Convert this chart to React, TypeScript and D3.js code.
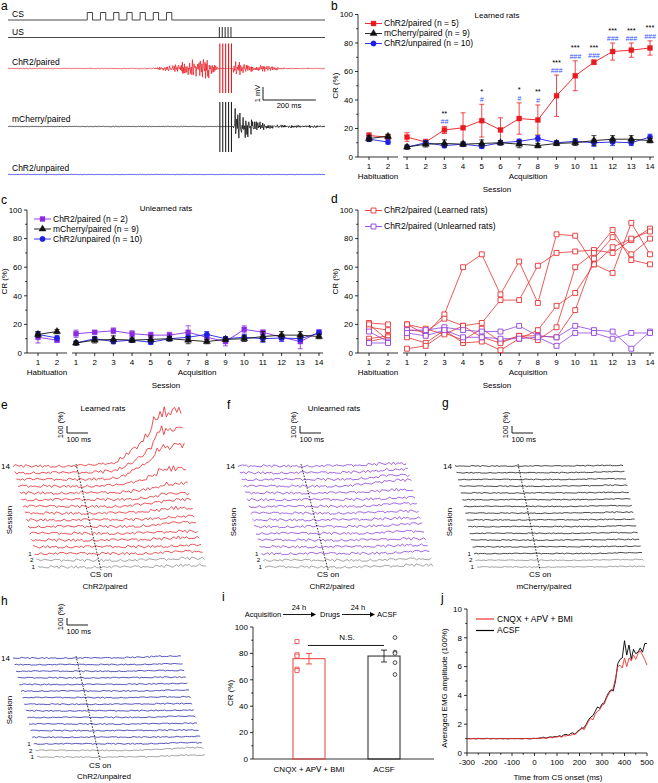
import React from "react";
import * as d3 from "d3";

const FONT = "'Liberation Sans', Arial, Helvetica, sans-serif";

// ---------------- Panel a (raw traces) ----------------
const CS_PULSE_STARTS_MS = [300, 350, 400, 450, 500, 550, 600];
const CS_PULSE_WIDTH_MS = 20;
const US_PULSES_MS = [800, 811, 822, 833, 844];
const RED_ENV_T = [0, 540, 580, 620, 660, 700, 730, 760, 790, 798, 852, 858, 875, 900, 940, 980, 1020, 1060, 1200];
const RED_ENV_MV = [0.03, 0.04, 0.15, 0.3, 0.55, 0.8, 1.0, 0.85, 0.6, 0, 0, 1.1, 0.55, 0.4, 0.3, 0.25, 0.15, 0.05, 0.03];
const BLACK_ENV_T = [0, 798, 852, 860, 880, 900, 920, 950, 1000, 1050, 1100, 1200];
const BLACK_ENV_MV = [0.03, 0.03, 0, 1.5, 1.4, 1.15, 0.8, 0.4, 0.2, 0.15, 0.12, 0.1];
const BLUE_ENV_T = [0, 1200];
const BLUE_ENV_MV = [0.02, 0.02];
const NOISE = [0.3, -0.8, 0.5, -0.2, 0.9, -0.6, 0.1, -0.9, 0.7, -0.4, 0.2, 0.8, -0.5, -0.1, 0.6, -0.7, 0.4, -0.3, 1.0, -0.9,
  0.2, 0.5, -0.6, 0.8, -0.2, -0.8, 0.3, 0.7, -0.4, 0.1, -1.0, 0.6, -0.3, 0.9, -0.5, 0.2, 0.4, -0.7, 0.8, -0.1,
  -0.6, 0.5, -0.9, 0.3, 0.7, -0.2, 0.1, -0.8, 0.6, -0.4];

// ---------------- Panels b, c (means) ----------------
const SESSIONS_HAB = [1, 2];
const SESSIONS_ACQ = [1, 2, 3, 4, 5, 6, 7, 8, 9, 10, 11, 12, 13, 14];

const B_RED_HAB = [15, 14];
const B_RED_HAB_ERR = [2, 1.5];
const B_RED_ACQ = [14, 10.5, 19, 20.5, 25.5, 19, 27, 26, 43, 57, 66.5, 74, 75, 76.5];
const B_RED_ACQ_ERR = [3, 2, 2.5, 10.5, 11.5, 8.5, 11, 10.5, 14.5, 10.5, 1.5, 6, 5, 5];
const B_BLACK_HAB = [13, 14.5];
const B_BLACK_HAB_ERR = [2, 1.5];
const B_BLACK_ACQ = [7, 9, 9.5, 9, 9.5, 10, 9, 8, 9.5, 10, 11.5, 12.5, 12.5, 11.5];
const B_BLACK_ACQ_ERR = [1.5, 2, 2.5, 1.5, 2.5, 1.5, 2.5, 1.5, 1.5, 2, 3.5, 2.5, 2.5, 1.5];
const B_BLUE_HAB = [12.5, 10.5];
const B_BLUE_HAB_ERR = [1.5, 1.5];
const B_BLUE_ACQ = [7, 10, 8, 9, 7.5, 10, 11, 13, 10, 11, 10, 10.5, 10, 14];
const B_BLUE_ACQ_ERR = [1, 1.5, 1.5, 1.5, 1.5, 1.5, 1.5, 2, 1.5, 2, 2.5, 2.5, 2, 2];
const B_STARS = ["", "", "**", "", "*", "", "*", "**", "***", "***", "***", "***", "***", "***"];
const B_HASHES = ["", "", "##", "", "#", "", "#", "#", "###", "###", "###", "###", "###", "###"];

const C_PURPLE_HAB = [11, 9];
const C_PURPLE_HAB_ERR = [4, 1.5];
const C_PURPLE_ACQ = [13.5, 14.5, 15.5, 13.5, 12.5, 12.5, 14.5, 11, 8, 16.5, 14.5, 11, 8, 14.5];
const C_PURPLE_ACQ_ERR = [2.5, 1, 2, 2, 2, 2, 4.5, 2, 3, 2.5, 1.5, 2, 5, 1.5];
const C_BLACK_HAB = [13, 15];
const C_BLACK_HAB_ERR = [2, 1.5];
const C_BLUE_HAB = [13, 10.5];
const C_BLUE_HAB_ERR = [1.5, 1.5];

// ---------------- Panel d (individual rats) ----------------
const D_LEARNED_HAB = [[21, 20], [18, 16], [10, 12], [8, 11], [20, 9]];
const D_LEARNED_ACQ = [
  [20, 13, 27, 60, 69, 41, 64, 35, 83, 82, 62, 56, 91, 69],
  [16, 15, 24, 19, 21, 37, 37, 61, 70, 71, 72, 70, 79, 87],
  [11, 7, 16, 7, 8, 2, 10, 16, 33, 42, 62, 74, 80, 85],
  [3, 5, 14, 9, 17, 8, 12, 9, 18, 60, 70, 86, 65, 62],
  [20, 17, 13, 19, 11, 7, 12, 12, 11, 30, 66, 81, 69, 80],
];
const D_UNLEARNED_HAB = [[15, 8], [7, 7]];
const D_UNLEARNED_ACQ = [
  [16, 16, 18, 16, 15, 15, 19, 12, 11, 19, 16, 15, 3, 15],
  [14, 12, 16, 11, 11, 10, 10, 11, 5, 14, 14, 10, 14, 14],
];

// ---------------- Panel j (averaged EMG) ----------------
const J_TIMES_START = -300;
const J_TIMES_STEP = 10;
const J_RED = [
  1.00, 0.98, 1.01, 0.99, 1.00, 1.02, 0.98, 1.00, 0.99, 1.01, 1.00, 0.98, 1.00, 1.01, 0.99, 1.00, 0.98, 1.01, 1.00, 0.99,
  1.00, 1.01, 0.99, 1.00, 0.98, 1.00, 1.01, 0.99, 1.00, 1.00,
  1.00, 1.02, 1.00, 1.03, 1.05, 1.02, 1.06, 1.08, 1.05, 1.10, 1.12,
  1.15, 1.10, 1.20, 1.18, 1.25, 1.22, 1.30, 1.28, 1.45, 1.55,
  1.80, 1.60, 1.90, 2.20, 2.40, 2.30, 2.70, 2.90, 3.00, 3.30,
  3.40, 3.80, 4.10, 4.30, 4.50, 5.20, 6.00, 6.10, 5.90, 6.60,
  6.00, 6.60, 6.40, 6.80, 6.50, 6.90, 7.10, 6.80, 6.50, 6.10,
];
const J_BLACK = [
  1.01, 1.00, 0.99, 1.01, 0.98, 1.00, 1.01, 0.99, 1.00, 1.02, 0.99, 1.00, 1.01, 0.98, 1.00, 1.01, 0.99, 1.00, 0.98, 1.01,
  1.00, 0.99, 1.01, 1.00, 1.00, 0.99, 1.01, 1.00, 0.98, 1.01,
  1.02, 1.00, 1.04, 1.05, 1.10, 1.04, 1.08, 1.12, 1.10, 1.15, 1.12,
  1.20, 1.15, 1.25, 1.30, 1.22, 1.35, 1.40, 1.30, 1.50, 1.60,
  1.70, 1.75, 2.00, 2.30, 2.50, 2.60, 2.90, 3.20, 3.10, 3.40,
  3.50, 3.90, 4.20, 4.40, 4.30, 5.00, 6.20, 6.50, 6.60, 7.80,
  6.80, 7.50, 6.50, 7.20, 6.90, 7.00, 7.30, 7.00, 7.60, 7.60,
];
const J_X_TICKS = [-300, -200, -100, 0, 100, 200, 300, 400, 500];
const J_Y_TICKS = [0, 2, 4, 6, 8, 10];

// ---------------- Panels e–h (waterfalls): peak amplitude per trace (hab1, hab2, acq1..14) ----------------
const E_PEAKS = [1.3, 1.3, 1.3, 1.2, 1.4, 1.3, 1.6, 1.5, 1.8, 2.0, 1.9, 2.4, 3.7, 6.1, 7.4, 9.3];
const F_PEAKS = [1.3, 1.2, 1.3, 1.3, 1.2, 1.3, 1.4, 1.3, 1.3, 1.4, 1.3, 1.5, 1.9, 1.6, 1.5, 1.4];
const G_PEAKS = [1.1, 1.1, 1.1, 1.1, 1.1, 1.1, 1.1, 1.1, 1.15, 1.1, 1.1, 1.1, 1.15, 1.1, 1.15, 1.1];
const H_PEAKS = [1.3, 1.4, 1.15, 1.1, 1.1, 1.1, 1.15, 1.1, 1.1, 1.1, 1.1, 1.15, 1.1, 1.1, 1.1, 1.3];

// ---------------- Panel i ----------------
const I_GROUPS = ["CNQX + AP\u2164 + BMI", "ACSF"];
const I_MEANS = [76, 78];
const I_ERRS = [4, 4.5];
const I_POINTS = [[89, 79, 78, 68, 67], [92, 81, 80, 73, 64]];
const I_NS = 86;
const I_FLOW = ["Acquisition", "Drugs", "ACSF"];
const I_FLOW_GAP = "24 h";

const RED = "#e8191f";
const BLUE = "#1f1fe6";
const PURPLE = "#8a2be2";
const BLACK = "#111";
const HASH_BLUE = "#3050ff";

const fs = 8;

function Symbol({ kind, x, y, color, open }: any) {
  const type = kind === "square" ? d3.symbolSquare : kind === "triangle" ? d3.symbolTriangle : d3.symbolCircle;
  const size = kind === "square" ? 24 : 22;
  const p = d3.symbol().type(type).size(size)() as string;
  return (
    <path
      d={p}
      transform={`translate(${x},${y})`}
      fill={open ? "#fff" : color}
      stroke={color}
      strokeWidth={open ? 0.9 : 0.4}
    />
  );
}

function SessionChart(props: any) {
  const { ox, y0, y100, series, title, titleY, legendY, legendDy, annot } = props;
  const y = d3.scaleLinear().domain([0, 100]).range([y0, y100]);
  const xh = d3.scaleLinear().domain([1, 2]).range([ox + 11, ox + 30]);
  const xa = d3.scaleLinear().domain([1, 14]).range([ox + 49, ox + 292]);
  const line = d3.line();
  const majors = y.ticks(5);
  const minors = y.ticks(10).filter((v) => !majors.includes(v));
  return (
    <g fontFamily={FONT} fontSize={fs}>
      {/* y axis */}
      <line x1={ox} x2={ox} y1={y(0)} y2={y(100)} stroke="#000" strokeWidth={0.8} />
      {majors.map((v) => (
        <g key={"M" + v}>
          <line x1={ox - 3} x2={ox} y1={y(v)} y2={y(v)} stroke="#000" strokeWidth={0.8} />
          <text x={ox - 5} y={y(v)} dy="0.34em" textAnchor="end">
            {v}
          </text>
        </g>
      ))}
      {minors.map((v) => (
        <line key={"m" + v} x1={ox - 1.8} x2={ox} y1={y(v)} y2={y(v)} stroke="#000" strokeWidth={0.8} />
      ))}
      <text transform={`translate(${ox - 20},${(y0 + y100) / 2}) rotate(-90)`} textAnchor="middle">
        CR (%)
      </text>
      {/* x axes */}
      <line x1={ox} x2={ox + 40} y1={y0} y2={y0} stroke="#000" strokeWidth={0.8} />
      <line x1={ox + 45} x2={ox + 296} y1={y0} y2={y0} stroke="#000" strokeWidth={0.8} />
      {SESSIONS_HAB.map((s) => (
        <g key={"h" + s}>
          <line x1={xh(s)} x2={xh(s)} y1={y0} y2={y0 + 3} stroke="#000" strokeWidth={0.8} />
          <text x={xh(s)} y={y0 + 12} textAnchor="middle">
            {s}
          </text>
        </g>
      ))}
      {SESSIONS_ACQ.map((s) => (
        <g key={"a" + s}>
          <line x1={xa(s)} x2={xa(s)} y1={y0} y2={y0 + 3} stroke="#000" strokeWidth={0.8} />
          <text x={xa(s)} y={y0 + 12} textAnchor="middle">
            {s}
          </text>
        </g>
      ))}
      <text x={ox + 20} y={y0 + 22} textAnchor="middle">
        Habituation
      </text>
      <text x={ox + 170} y={y0 + 22} textAnchor="middle">
        Acquisition
      </text>
      <text x={ox + 139} y={y0 + 35} textAnchor="middle">
        Session
      </text>
      {title && (
        <text x={ox + 139} y={titleY} textAnchor="middle">
          {title}
        </text>
      )}
      {/* series */}
      {series.map((s: any, si: number) => {
        const hp = s.hab.map((v: number, i: number) => [xh(SESSIONS_HAB[i]), y(v)] as [number, number]);
        const ap = s.acq.map((v: number, i: number) => [xa(SESSIONS_ACQ[i]), y(v)] as [number, number]);
        const bars = [
          ...(s.habErr || []).map((e: number, i: number) => ({ x: xh(SESSIONS_HAB[i]), m: s.hab[i], e })),
          ...(s.acqErr || []).map((e: number, i: number) => ({ x: xa(SESSIONS_ACQ[i]), m: s.acq[i], e })),
        ];
        return (
          <g key={si}>
            {bars.map((b: any, i: number) => (
              <g key={i} stroke={s.color} strokeWidth={0.8}>
                <line x1={b.x} x2={b.x} y1={y(b.m - b.e)} y2={y(b.m + b.e)} />
                <line x1={b.x - 2.5} x2={b.x + 2.5} y1={y(b.m - b.e)} y2={y(b.m - b.e)} />
                <line x1={b.x - 2.5} x2={b.x + 2.5} y1={y(b.m + b.e)} y2={y(b.m + b.e)} />
              </g>
            ))}
            <path d={line(hp) as string} fill="none" stroke={s.color} strokeWidth={s.lw || 0.9} />
            <path d={line(ap) as string} fill="none" stroke={s.color} strokeWidth={s.lw || 0.9} />
            {[...hp, ...ap].map((p: [number, number], i: number) => (
              <Symbol key={i} kind={s.marker} x={p[0]} y={p[1]} color={s.color} open={s.open} />
            ))}
          </g>
        );
      })}
      {annot &&
        annot.stars.map((st: string, i: number) => {
          const top = y(annot.means[i] + annot.errs[i]);
          return (
            <g key={"an" + i}>
              {st && (
                <text x={xa(SESSIONS_ACQ[i])} y={top - 10.5} textAnchor="middle" fontSize={7.5}>
                  {st}
                </text>
              )}
              {annot.hashes[i] && (
                <text
                  x={xa(SESSIONS_ACQ[i])}
                  y={top - 2}
                  textAnchor="middle"
                  fontSize={7}
                  fontStyle="italic"
                  fill={HASH_BLUE}
                >
                  {annot.hashes[i]}
                </text>
              )}
            </g>
          );
        })}
      {/* legend */}
      {series
        .filter((s: any) => s.legend)
        .sort((a: any, b: any) => a.legendOrder - b.legendOrder)
        .map((s: any, i: number) => {
          const ly = legendY + i * legendDy;
          return (
            <g key={"lg" + i}>
              <line x1={ox + 7} x2={ox + 24} y1={ly} y2={ly} stroke={s.color} strokeWidth={0.9} />
              <Symbol kind={s.marker} x={ox + 15.5} y={ly} color={s.color} open={s.open} />
              <text x={ox + 26} y={ly} dy="0.34em" fontSize={8.5}>
                {s.legend}
              </text>
            </g>
          );
        })}
    </g>
  );
}

function PanelA() {
  const x = d3.scaleLinear().domain([0, 1200]).range([8, 325]);
  const mv = 13;
  const line = d3.line();
  const csPts: [number, number][] = [[x(0), 20]];
  CS_PULSE_STARTS_MS.forEach((s) => {
    csPts.push([x(s), 20], [x(s), 12.5], [x(s + CS_PULSE_WIDTH_MS), 12.5], [x(s + CS_PULSE_WIDTH_MS), 20]);
  });
  csPts.push([x(1200), 20]);
  const T = d3.range(0, 1201, 2);
  const emg = (envT: number[], envA: number[], base: number, seed: number) => {
    const env = d3.scaleLinear().domain(envT).range(envA).clamp(true);
    return line(
      T.map((t, i) => [
        x(t),
        base - env(t) * mv * (NOISE[(i + seed) % 47] * 0.65 + NOISE[(i * 3 + seed) % 43] * 0.35),
      ])
    ) as string;
  };
  return (
    <g fontFamily={FONT} fontSize={8.5}>
      <text x={12} y={17}>CS</text>
      <path d={line(csPts) as string} fill="none" stroke="#333" strokeWidth={0.9} />
      <text x={12} y={35}>US</text>
      <line x1={x(0)} x2={x(1200)} y1={37.5} y2={37.5} stroke="#333" strokeWidth={0.9} />
      {US_PULSES_MS.map((t) => (
        <line key={t} x1={x(t)} x2={x(t)} y1={27} y2={37.5} stroke="#111" strokeWidth={0.9} />
      ))}
      <text x={12} y={65}>ChR2/paired</text>
      <path d={emg(RED_ENV_T, RED_ENV_MV, 68.5, 3)} fill="none" stroke={RED} strokeWidth={0.7} />
      {US_PULSES_MS.map((t) => (
        <line key={"r" + t} x1={x(t) + 0.5} x2={x(t) + 0.5} y1={43.5} y2={93} stroke={RED} strokeWidth={1.1} />
      ))}
      {/* scale bar */}
      <line x1={263} x2={263} y1={87} y2={100} stroke="#000" strokeWidth={0.9} />
      <line x1={263} x2={263 + (x(200) - x(0))} y1={100} y2={100} stroke="#000" strokeWidth={0.9} />
      <text transform="translate(260,93.5) rotate(-90)" textAnchor="middle" fontSize={7.5}>
        1 mV
      </text>
      <text x={289} y={108} textAnchor="middle" fontSize={7.5}>
        200 ms
      </text>
      <text x={12} y={122}>mCherry/paired</text>
      <path d={emg(BLACK_ENV_T, BLACK_ENV_MV, 126.5, 11)} fill="none" stroke="#000" strokeWidth={0.7} />
      {US_PULSES_MS.map((t) => (
        <line key={"b" + t} x1={x(t) + 0.5} x2={x(t) + 0.5} y1={102} y2={152} stroke="#222" strokeWidth={1.1} />
      ))}
      <text x={12} y={171}>ChR2/unpaired</text>
      <path d={emg(BLUE_ENV_T, BLUE_ENV_MV, 174.5, 7)} fill="none" stroke={BLUE} strokeWidth={0.8} />
    </g>
  );
}

function Waterfall(props: any) {
  const { top, bottom, color, peaks, noiseAmp, seed, caption, title, titleX, barX, barY, sessX, sessY, capDy } = props;
  const n = peaks.length;
  const L = 168;
  const times = J_RED.map((_, i) => J_TIMES_START + i * J_TIMES_STEP);
  const xs = d3.scaleLinear().domain([-300, 500]).range([0, L]);
  const avg = J_RED.map((v, i) => (v + J_BLACK[i]) / 2);
  const maxAvg = d3.max(avg) as number;
  const shape = avg.map((v) => Math.max(0, (v - 1) / (maxAvg - 1)));
  const unit = 7;
  const line = d3.line();
  const traces = peaks.map((pk: number, k: number) => {
    const sx = bottom[0] + ((top[0] - bottom[0]) * k) / (n - 1);
    const by = bottom[1] + ((top[1] - bottom[1]) * k) / (n - 1);
    const pts = times.map((t, i) => {
      const v = (pk - 1) * shape[i];
      const nz = NOISE[(i * 3 + k * 11 + seed) % 50] * noiseAmp * (1 + 0.25 * v);
      return [sx + xs(t), by - v * unit - nz] as [number, number];
    });
    return { d: line(pts) as string, sx, by, k };
  });
  const t0top = [top[0] + xs(0), top[1] - 2];
  const t0bot = [bottom[0] + xs(0), bottom[1] + 3];
  return (
    <g fontFamily={FONT} fontSize={fs}>
      {title && (
        <text x={titleX} y={411} textAnchor="middle">
          {title}
        </text>
      )}
      {/* scale bar */}
      <line x1={barX} x2={barX} y1={barY - 7} y2={barY} stroke="#000" strokeWidth={0.9} />
      <line x1={barX} x2={barX + xs(100) - xs(0)} y1={barY} y2={barY} stroke="#000" strokeWidth={0.9} />
      <text x={barX - 0.5} y={barY + 8.5} fontSize={7.5}>
        100 ms
      </text>
      <text transform={`translate(${barX - 4},${barY - 8}) rotate(-90)`} textAnchor="middle" fontSize={7.5}>
        100 (%)
      </text>
      {traces.map((t: any) => (
        <path
          key={t.k}
          d={t.d}
          fill="none"
          stroke={t.k < 2 ? "#8a8a8a" : color}
          strokeWidth={0.8}
        />
      ))}
      <line
        x1={t0top[0]}
        y1={t0top[1]}
        x2={t0bot[0]}
        y2={t0bot[1]}
        stroke="#000"
        strokeWidth={0.8}
        strokeDasharray="1.6,1.4"
      />
      <text x={traces[n - 1].sx - 3} y={traces[n - 1].by} dy="0.34em" textAnchor="end">
        14
      </text>
      <g fontSize={6.2}>
        <text x={traces[2].sx - 3} y={traces[2].by} dy="0.34em" textAnchor="end">
          1
        </text>
        <text x={traces[1].sx - 3} y={traces[1].by} dy="0.34em" textAnchor="end">
          2
        </text>
        <text x={traces[0].sx - 3} y={traces[0].by} dy="0.34em" textAnchor="end">
          1
        </text>
      </g>
      <text transform={`translate(${sessX},${sessY}) rotate(-90)`} textAnchor="middle">
        Session
      </text>
      <text x={t0bot[0]} y={bottom[1] + capDy[0]} textAnchor="middle">
        CS on
      </text>
      <text x={t0bot[0] + 4} y={bottom[1] + capDy[1]} textAnchor="middle">
        {caption}
      </text>
    </g>
  );
}

function Arrow({ x1, x2, y }: any) {
  return (
    <g>
      <line x1={x1} x2={x2 - 4} y1={y} y2={y} stroke="#000" strokeWidth={0.9} />
      <path d={`M${x2},${y}L${x2 - 5},${y - 2.5}L${x2 - 5},${y + 2.5}Z`} fill="#000" />
    </g>
  );
}

function PanelI() {
  const y = d3.scaleLinear().domain([0, 100]).range([759, 627]);
  const x = d3.scalePoint().domain(I_GROUPS).range([309, 384]);
  const ox = 253;
  const bw = 32;
  const majors = y.ticks(5);
  const minors = y.ticks(10).filter((v) => !majors.includes(v));
  const colors = ["#f03a3a", "#222"];
  const sq = d3.symbol().type(d3.symbolSquare).size(16)() as string;
  return (
    <g fontFamily={FONT} fontSize={fs}>
      <text x={263} y={617} textAnchor="middle" fontSize={7.5}>{I_FLOW[0]}</text>
      <Arrow x1={283} x2={316} y={614.5} />
      <text x={299} y={609.5} textAnchor="middle" fontSize={7.5}>{I_FLOW_GAP}</text>
      <text x={330} y={617} textAnchor="middle" fontSize={7.5}>{I_FLOW[1]}</text>
      <Arrow x1={342} x2={375} y={614.5} />
      <text x={358} y={609.5} textAnchor="middle" fontSize={7.5}>{I_FLOW_GAP}</text>
      <text x={387} y={617} textAnchor="middle" fontSize={7.5}>{I_FLOW[2]}</text>

      <line x1={ox} x2={ox} y1={y(0)} y2={y(100)} stroke="#000" strokeWidth={0.8} />
      <line x1={ox} x2={434} y1={y(0)} y2={y(0)} stroke="#000" strokeWidth={0.8} />
      {majors.map((v) => (
        <g key={v}>
          <line x1={ox - 3} x2={ox} y1={y(v)} y2={y(v)} stroke="#000" strokeWidth={0.8} />
          <text x={ox - 5} y={y(v)} dy="0.34em" textAnchor="end">{v}</text>
        </g>
      ))}
      {minors.map((v) => (
        <line key={"m" + v} x1={ox - 1.8} x2={ox} y1={y(v)} y2={y(v)} stroke="#000" strokeWidth={0.8} />
      ))}
      <text transform={`translate(233,${(y(0) + y(100)) / 2}) rotate(-90)`} textAnchor="middle">CR (%)</text>
      {I_GROUPS.map((g, gi) => {
        const cx = x(g) as number;
        const m = I_MEANS[gi];
        const e = I_ERRS[gi];
        return (
          <g key={g}>
            <rect x={cx - bw / 2} y={y(m)} width={bw} height={y(0) - y(m)} fill="none" stroke={colors[gi]} strokeWidth={1} />
            <g stroke={colors[gi]} strokeWidth={0.9}>
              <line x1={cx} x2={cx} y1={y(m - e)} y2={y(m + e)} />
              <line x1={cx - 3} x2={cx + 3} y1={y(m - e)} y2={y(m - e)} />
              <line x1={cx - 3} x2={cx + 3} y1={y(m + e)} y2={y(m + e)} />
            </g>
            {I_POINTS[gi].map((v, k) =>
              gi === 0 ? (
                <path key={k} d={sq} transform={`translate(${cx - 12},${y(v)})`} fill="#fff" stroke={colors[0]} strokeWidth={0.8} />
              ) : (
                <circle key={k} cx={cx + 11} cy={y(v)} r={1.9} fill="#fff" stroke={colors[1]} strokeWidth={0.8} />
              )
            )}
            <text x={cx} y={772} textAnchor="middle">{g}</text>
          </g>
        );
      })}
      <line x1={(x(I_GROUPS[0]) as number) - 1} x2={x(I_GROUPS[1]) as number} y1={y(I_NS)} y2={y(I_NS)} stroke="#000" strokeWidth={0.9} />
      <text x={347} y={y(I_NS) - 5} textAnchor="middle">N.S.</text>
    </g>
  );
}

function PanelJ() {
  const x = d3.scaleLinear().domain([-300, 500]).range([467, 647]);
  const y = d3.scaleLinear().domain([0, 10]).range([753, 609]);
  const times = J_RED.map((_, i) => J_TIMES_START + i * J_TIMES_STEP);
  const line = d3.line<number>().x((_, i) => x(times[i])).y((v) => y(v));
  const xMinor = d3.range(-250, 500, 100);
  const yMinor = [1, 3, 5, 7, 9];
  return (
    <g fontFamily={FONT} fontSize={fs}>
      <line x1={x(-300)} x2={x(500)} y1={y(0)} y2={y(0)} stroke="#000" strokeWidth={0.8} />
      <line x1={x(-300)} x2={x(-300)} y1={y(0)} y2={y(10)} stroke="#000" strokeWidth={0.8} />
      {J_X_TICKS.map((t) => (
        <g key={t}>
          <line x1={x(t)} x2={x(t)} y1={y(0)} y2={y(0) + 3} stroke="#000" strokeWidth={0.8} />
          <text x={x(t)} y={765} textAnchor="middle">{t}</text>
        </g>
      ))}
      {xMinor.map((t) => (
        <line key={"xm" + t} x1={x(t)} x2={x(t)} y1={y(0)} y2={y(0) + 1.8} stroke="#000" strokeWidth={0.8} />
      ))}
      {J_Y_TICKS.map((v) => (
        <g key={v}>
          <line x1={x(-300) - 3} x2={x(-300)} y1={y(v)} y2={y(v)} stroke="#000" strokeWidth={0.8} />
          <text x={x(-300) - 5} y={y(v)} dy="0.34em" textAnchor="end">{v}</text>
        </g>
      ))}
      {yMinor.map((v) => (
        <line key={"ym" + v} x1={x(-300) - 1.8} x2={x(-300)} y1={y(v)} y2={y(v)} stroke="#000" strokeWidth={0.8} />
      ))}
      <path d={line(J_BLACK) as string} fill="none" stroke="#000" strokeWidth={0.9} />
      <path d={line(J_RED) as string} fill="none" stroke="#f03030" strokeWidth={0.9} />
      <text x={558} y={780} textAnchor="middle">Time from CS onset (ms)</text>
      <text transform="translate(447,688) rotate(-90)" textAnchor="middle">Averaged EMG amplitude (100%)</text>
      <line x1={476} x2={494} y1={619} y2={619} stroke="#f03030" strokeWidth={1.2} />
      <text x={497} y={619} dy="0.34em" fontSize={8.5}>{"CNQX + AP\u2164 + BMI"}</text>
      <line x1={476} x2={494} y1={630.5} y2={630.5} stroke="#000" strokeWidth={1.2} />
      <text x={497} y={630.5} dy="0.34em" fontSize={8.5}>ACSF</text>
    </g>
  );
}

export default function App() {
  const bSeries = [
    { color: RED, marker: "square", hab: B_RED_HAB, habErr: B_RED_HAB_ERR, acq: B_RED_ACQ, acqErr: B_RED_ACQ_ERR, legend: "ChR2/paired (n = 5)", legendOrder: 0 },
    { color: BLUE, marker: "circle", hab: B_BLUE_HAB, habErr: B_BLUE_HAB_ERR, acq: B_BLUE_ACQ, acqErr: B_BLUE_ACQ_ERR, legend: "ChR2/unpaired (n = 10)", legendOrder: 2 },
    { color: BLACK, marker: "triangle", hab: B_BLACK_HAB, habErr: B_BLACK_HAB_ERR, acq: B_BLACK_ACQ, acqErr: B_BLACK_ACQ_ERR, legend: "mCherry/paired (n = 9)", legendOrder: 1 },
  ];
  const cSeries = [
    { color: PURPLE, marker: "square", hab: C_PURPLE_HAB, habErr: C_PURPLE_HAB_ERR, acq: C_PURPLE_ACQ, acqErr: C_PURPLE_ACQ_ERR, legend: "ChR2/paired (n = 2)", legendOrder: 0 },
    { color: BLUE, marker: "circle", hab: C_BLUE_HAB, habErr: C_BLUE_HAB_ERR, acq: B_BLUE_ACQ, acqErr: B_BLUE_ACQ_ERR, legend: "ChR2/unpaired (n = 10)", legendOrder: 2 },
    { color: BLACK, marker: "triangle", hab: C_BLACK_HAB, habErr: C_BLACK_HAB_ERR, acq: B_BLACK_ACQ, acqErr: B_BLACK_ACQ_ERR, legend: "mCherry/paired (n = 9)", legendOrder: 1 },
  ];
  const dSeries = [
    ...D_LEARNED_ACQ.map((acq, i) => ({ color: "#e83030", marker: "square", open: true, hab: D_LEARNED_HAB[i], acq, legend: i === 0 ? "ChR2/paired (Learned rats)" : null, legendOrder: 0, lw: 0.8 })),
    ...D_UNLEARNED_ACQ.map((acq, i) => ({ color: "#9040e0", marker: "square", open: true, hab: D_UNLEARNED_HAB[i], acq, legend: i === 0 ? "ChR2/paired (Unlearned rats)" : null, legendOrder: 1, lw: 0.8 })),
  ];
  return (
    <svg
      width={658}
      height={783}
      viewBox="0 0 658 783"
      style={{ position: "absolute", left: 0, top: 0, background: "#fff" }}
      fontFamily={FONT}
    >
      <rect width={658} height={783} fill="#fff" />
      <g fontFamily={FONT} fontSize={12}>
        <text x={1} y={10}>a</text>
        <text x={331} y={10}>b</text>
        <text x={1} y={204}>c</text>
        <text x={331} y={203}>d</text>
        <text x={1} y={409}>e</text>
        <text x={227} y={409}>f</text>
        <text x={442} y={407}>g</text>
        <text x={1} y={605}>h</text>
        <text x={222} y={601}>i</text>
        <text x={441} y={602}>j</text>
      </g>
      <PanelA />
      <SessionChart
        ox={358}
        y0={157}
        y100={14.5}
        series={bSeries}
        title="Learned rats"
        titleY={18}
        legendY={23.5}
        legendDy={10}
        annot={{ stars: B_STARS, hashes: B_HASHES, means: B_RED_ACQ, errs: B_RED_ACQ_ERR }}
      />
      <SessionChart
        ox={27}
        y0={353}
        y100={210}
        series={cSeries}
        title="Unlearned rats"
        titleY={211}
        legendY={219}
        legendDy={10}
      />
      <SessionChart
        ox={358}
        y0={353}
        y100={210}
        series={dSeries}
        legendY={210.5}
        legendDy={16}
      />
      <Waterfall top={[13, 466]} bottom={[38, 567]} color="#e3262b" peaks={E_PEAKS} noiseAmp={1.4} seed={0}
        caption="ChR2/paired" title="Learned rats" titleX={103} barX={67} barY={433} sessX={12} sessY={520} capDy={[10, 22]} />
      <Waterfall top={[238, 466]} bottom={[265, 567]} color="#8a3ed8" peaks={F_PEAKS} noiseAmp={1.3} seed={17}
        caption="ChR2/paired" title="Unlearned rats" titleX={334} barX={300} barY={433} sessX={236} sessY={522} capDy={[10, 22]} />
      <Waterfall top={[455, 466]} bottom={[477, 567]} color="#1a1a1a" peaks={G_PEAKS} noiseAmp={0.5} seed={29}
        caption="mCherry/paired" barX={512} barY={433} sessX={452} sessY={522} capDy={[10, 22]} />
      <Waterfall top={[13, 658]} bottom={[37, 757]} color="#2a2aa8" peaks={H_PEAKS} noiseAmp={0.6} seed={41}
        caption="ChR2/unpaired" barX={67} barY={625} sessX={12} sessY={710} capDy={[11, 22]} />
      <PanelI />
      <PanelJ />
    </svg>
  );
}
